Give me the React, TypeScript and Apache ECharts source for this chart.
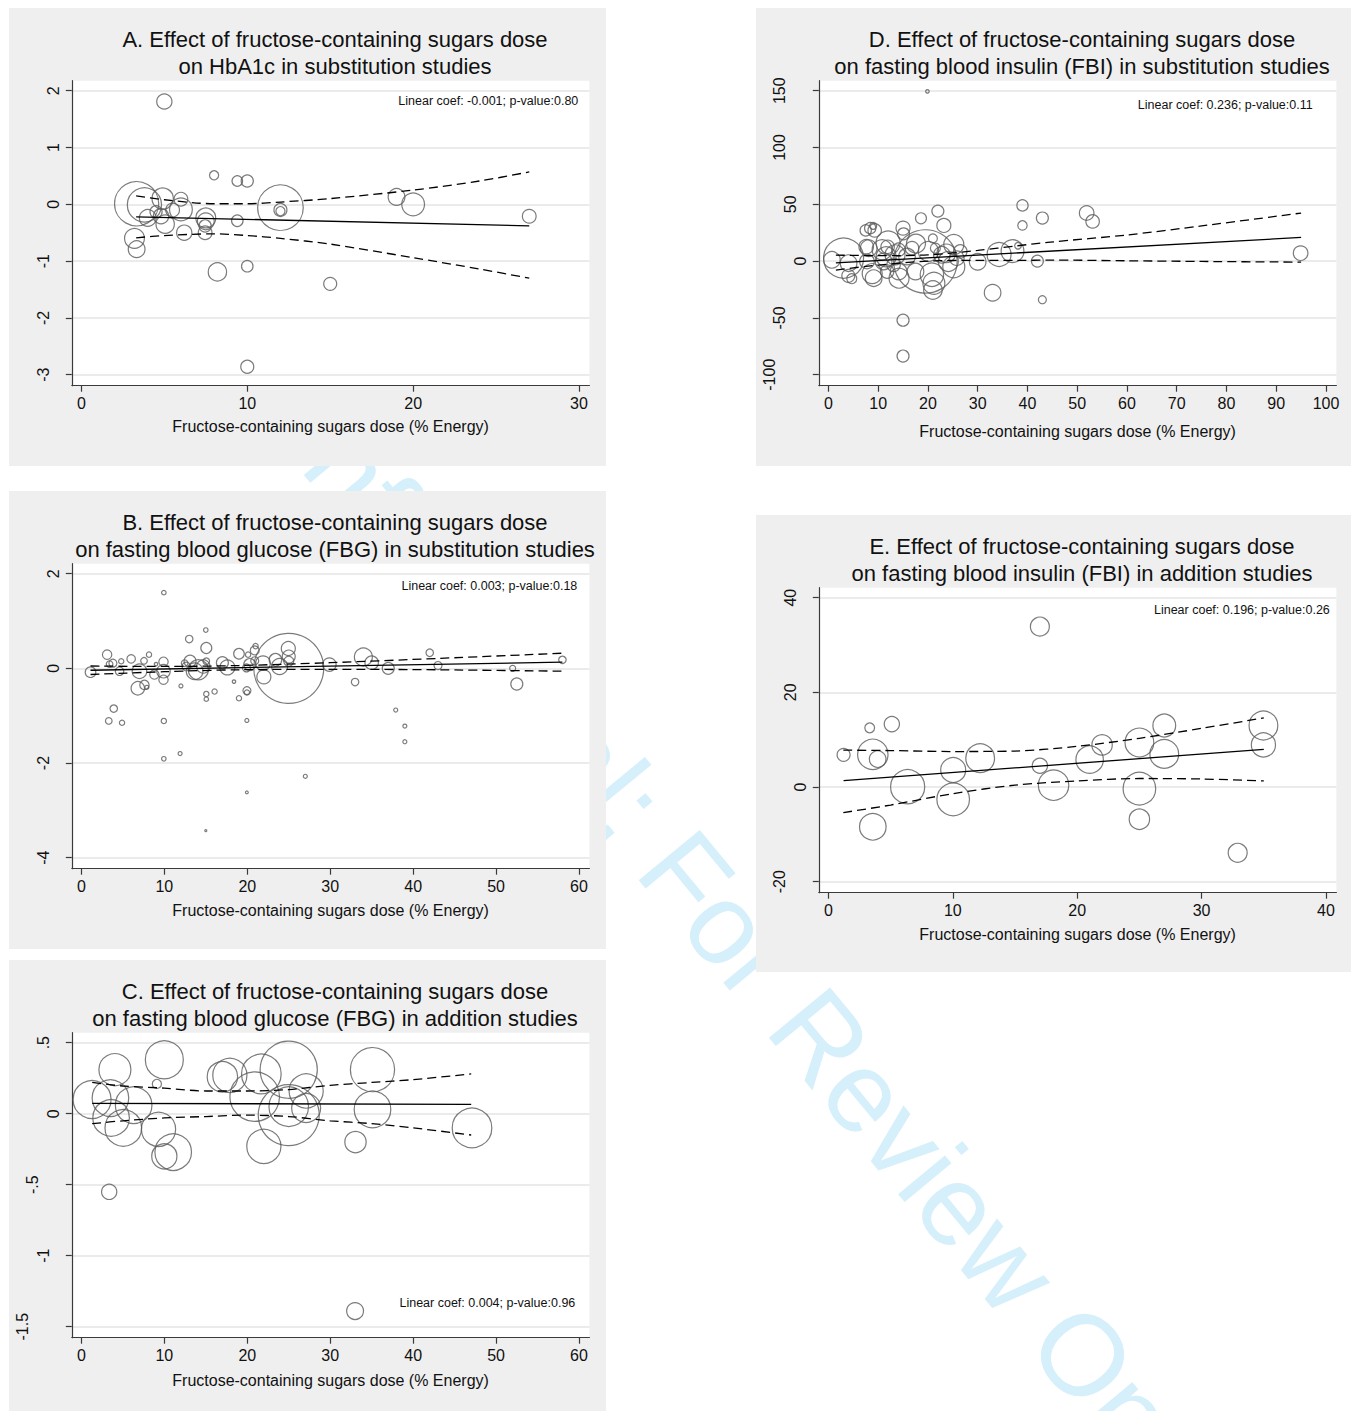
import React, { useEffect, useRef } from "react";
import * as echarts from "echarts";

const FONT = '"Liberation Sans", Arial, Helvetica, sans-serif';
const X_TITLE = "Fructose-containing sugars dose (% Energy)";

// ---------- A. HbA1c, substitution studies ----------
const doseA = [5.0, 8.0, 9.4, 10.0, 19.0, 20.0, 27.0, 12.0, 12.0, 12.0, 3.33, 3.8, 4.9, 6.0, 6.0, 5.5, 4.5, 4.8, 4.0, 5.05, 7.5, 7.5, 9.4, 6.2, 7.46, 3.2, 3.33, 8.2, 10.0, 15.0, 10.0, 7.46];
const effA = [1.81, 0.51, 0.41, 0.41, 0.13, 0.0, -0.21, -0.06, -0.1, -0.12, 0.01, -0.01, 0.1, 0.09, -0.09, -0.1, -0.13, -0.21, -0.24, -0.35, -0.24, -0.3, -0.29, -0.5, -0.5, -0.6, -0.79, -1.19, -1.09, -1.4, -2.86, -0.38];
const wtA = [58, 21, 28, 37, 70, 130, 47, 520, 42, 21, 488, 293, 114, 47, 130, 47, 37, 58, 70, 84, 98, 70, 33, 58, 47, 98, 70, 84, 33, 42, 42, 37];
const fitDoseA = [3.3, 27];
const fitA = [-0.22, -0.38];
const ciDoseA = [3.3, 5, 8, 10, 12, 15, 20, 24, 27];
const ciHiA = [0.15, 0.08, 0.01, 0.01, 0.04, 0.1, 0.25, 0.41, 0.57];
const ciLoA = [-0.59, -0.55, -0.52, -0.55, -0.6, -0.7, -0.94, -1.14, -1.3];
const xTicksA = [0, 10, 20, 30];
const yTicksA = [-3, -2, -1, 0, 1, 2];

// ---------- B. FBG, substitution studies ----------
const doseB = [1.1, 3.1, 3.8, 3.4, 4.8, 6.0, 8.15, 7.55, 4.6, 7.0, 6.8, 7.6, 7.9, 8.8, 9.9, 9.9, 9.9, 9.0, 12.0, 13.0, 12.65, 13.1, 13.65, 12.45, 14.7, 3.9, 9.94, 15.0, 3.3, 4.9, 9.94, 11.9, 9.94, 27.0, 19.95, 15.0, 19.95, 15.06, 15.06, 14.1, 17.0, 17.6, 19.0, 19.9, 20.1, 20.9, 21.0, 20.9, 20.3, 21.9, 22.0, 23.4, 23.9, 24.95, 25.0, 25.0, 25.0, 18.4, 19.96, 19.96, 19.0, 16.06, 15.06, 15.06, 29.9, 34.0, 35.0, 37.0, 33.0, 42.0, 43.0, 52.0, 52.5, 58.0, 37.9, 39.0, 39.0];
const effB = [-0.08, 0.29, 0.11, 0.09, 0.15, 0.2, 0.29, 0.16, -0.06, -0.06, -0.42, -0.35, -0.4, -0.13, 0.14, -0.06, -0.24, 0.09, -0.37, 0.62, 0.04, 0.15, -0.06, 0.11, 0.04, -0.85, 1.6, 0.81, -1.11, -1.15, -1.11, -1.8, -1.91, -2.28, -2.62, -3.43, -1.1, 0.43, 0.15, -0.03, 0.12, 0.02, 0.31, 0.01, 0.29, 0.38, 0.47, 0.16, 0.08, 0.11, -0.18, 0.18, 0.04, 0.42, 0.25, 0.15, 0.0, -0.28, -0.47, -0.51, -0.63, -0.49, -0.54, -0.65, 0.08, 0.24, 0.12, 0.0, -0.29, 0.33, 0.06, 0.0, -0.33, 0.18, -0.88, -1.22, -1.55];
const wtB = [28, 22, 16, 11, 7, 18, 7, 11, 18, 53, 45, 22, 4, 22, 22, 45, 22, 3, 4, 14, 18, 36, 69, 11, 45, 14, 5, 5, 11, 7, 7, 4, 5, 4, 2, 1, 4, 30, 11, 100, 36, 56, 28, 16, 7, 20, 7, 16, 36, 53, 49, 40, 64, 49, 42, 25, 1225, 3, 16, 7, 7, 7, 7, 5, 45, 81, 45, 36, 14, 14, 16, 9, 36, 14, 4, 4, 4];
const fitDoseB = [1.1, 58];
const fitB = [-0.04, 0.13];
const ciDoseB = [1.1, 10, 19, 30, 43, 58];
const ciHiB = [0.05, 0.04, 0.06, 0.12, 0.21, 0.32];
const ciLoB = [-0.13, -0.07, -0.03, -0.02, -0.03, -0.06];
const xTicksB = [0, 10, 20, 30, 40, 50, 60];
const yTicksB = [-4, -2, 0, 2];

// ---------- C. FBG, addition studies ----------
const doseC = [1.29, 3.5, 4.04, 3.58, 6.3, 5.05, 9.1, 10.0, 9.3, 10.0, 11.07, 17.0, 17.9, 21.7, 25.0, 20.9, 25.0, 25.0, 27.1, 27.1, 22.0, 33.05, 35.1, 35.1, 47.1, 3.35, 33.0];
const effC = [0.1, 0.11, 0.31, -0.03, 0.06, -0.1, 0.21, 0.38, -0.11, -0.3, -0.27, 0.26, 0.27, 0.28, 0.31, 0.12, -0.01, 0.05, 0.16, 0.04, -0.23, -0.2, 0.31, 0.03, -0.1, -0.55, -1.39];
const wtC = [361, 335, 256, 335, 335, 335, 21, 361, 292, 159, 335, 231, 292, 392, 818, 615, 930, 392, 292, 210, 292, 114, 488, 335, 392, 58, 71];
const fitDoseC = [1.3, 47];
const fitC = [0.073, 0.066];
const ciDoseC = [1.3, 5, 10, 15, 20, 25, 30, 35, 40, 47];
const ciHiC = [0.22, 0.195, 0.18, 0.16, 0.16, 0.17, 0.2, 0.22, 0.24, 0.28];
const ciLoC = [-0.07, -0.05, -0.03, -0.02, -0.01, -0.02, -0.05, -0.07, -0.1, -0.15];
const xTicksC = [0, 10, 20, 30, 40, 50, 60];
const yTicksC = [-1.5, -1, -0.5, 0, 0.5];

// ---------- D. FBI, substitution studies ----------
const doseD = [3.05, 0.7, 4.06, 4.0, 4.7, 7.5, 8.4, 9.3, 9.0, 8.1, 7.75, 8.8, 9.1, 10.8, 12.0, 11.1, 13.4, 13.1, 14.1, 14.2, 15.0, 15.1, 15.8, 17.6, 18.6, 22.0, 23.2, 19.5, 20.1, 21.0, 20.8, 21.2, 22.8, 24.1, 25.2, 25.8, 25.2, 17.5, 19.9, 39.0, 39.0, 43.0, 15.0, 15.0, 30.0, 34.3, 37.0, 38.1, 33.0, 42.0, 43.0, 51.9, 53.1, 94.9, 7.6, 11.9, 11.6, 23.7, 21.0, 16.8, 14.1, 11.8, 26.5, 21.5];
const effD = [2.6, 1.1, -1.8, -13, -15.5, 27, 29, 27, 31, 11.4, -0.3, -11, -15, 10, 16, -0.3, 5.5, -3.3, -9.2, -15, 29, 24, 4, 15.4, 37.7, 44, 31.4, -0.3, 8.5, 20, -12, -19.5, 5.5, -0.3, 14.6, 2.6, -5, -9.2, 149.4, 49, 31.4, 37.9, -52, -83.6, -0.6, 5.9, 8.8, 13.5, -27.9, 0, -34, 42.3, 34.9, 7.0, 12.6, 12.6, 3.8, 6.8, -25.5, 11.4, 10, -9.2, 8.5, 11.4];
const wtD = [400, 69, 69, 42, 25, 32, 32, 45, 12, 69, 53, 100, 69, 100, 144, 69, 100, 45, 69, 100, 49, 36, 69, 90, 30, 36, 49, 1005, 100, 20, 137, 121, 69, 100, 100, 53, 121, 69, 3, 32, 22, 36, 36, 36, 69, 144, 130, 11, 69, 36, 16, 53, 45, 53, 53, 45, 100, 86, 86, 45, 45, 45, 45, 25];
const fitDoseD = [1.5, 95];
const fitD = [-1.5, 20.8];
const ciDoseD = [1.5, 10, 20, 30, 38, 44.6, 60, 75, 95];
const ciHiD = [5.3, 4.8, 5.5, 9.4, 13.5, 16.7, 23, 31, 42.3];
const ciLoD = [-7.9, -3.5, 0, 0.6, 0.6, 0.9, 0.3, -0.3, -0.9];
const xTicksD = [0, 10, 20, 30, 40, 50, 60, 70, 80, 90, 100];
const yTicksD = [-100, -50, 0, 50, 100, 150];

// ---------- E. FBI, addition studies ----------
const doseE = [1.22, 3.32, 5.1, 3.57, 3.96, 3.57, 6.37, 10.03, 10.03, 12.2, 17.0, 17.0, 18.1, 21.0, 22.0, 25.0, 25.0, 25.0, 27.0, 27.0, 32.9, 34.97, 34.97];
const effE = [6.8, 12.5, 13.3, 6.9, 5.9, -8.4, 0.07, 3.6, -2.6, 6.1, 33.9, 4.5, 0.4, 5.8, 8.9, 9.4, -0.35, -6.8, 13.0, 7.0, -13.9, 13.0, 8.9];
const wtE = [42, 24, 58, 231, 69, 177, 292, 156, 266, 207, 90, 58, 231, 188, 104, 207, 266, 104, 130, 207, 90, 207, 146];
const fitDoseE = [1.22, 35];
const fitE = [1.34, 7.96];
const ciDoseE = [1.2, 5, 10, 15, 20, 25, 30, 35];
const ciHiE = [7.8, 7.7, 7.5, 7.6, 8.6, 10.3, 12.4, 14.6];
const ciLoE = [-5.4, -3.8, -1.4, 0.4, 1.3, 1.8, 1.7, 1.3];
const xTicksE = [0, 10, 20, 30, 40];
const yTicksE = [-20, 0, 20, 40];

type Panel = {
  title: [string, string];
  note: string;
  dose: number[];
  eff: number[];
  wt: number[];
  fitDose: number[];
  fit: number[];
  ciDose: number[];
  ciHi: number[];
  ciLo: number[];
  xTicks: number[];
  yTicks: number[];
  box: [number, number, number, number];
  noteAt: [number, number];
  nameDist: number;
};

const panels: Panel[] = [
  {
    title: ["A. Effect of fructose-containing sugars dose", "on HbA1c in substitution studies"],
    note: "Linear coef: -0.001; p-value:0.80",
    dose: doseA, eff: effA, wt: wtA, fitDose: fitDoseA, fit: fitA,
    ciDose: ciDoseA, ciHi: ciHiA, ciLo: ciLoA, xTicks: xTicksA, yTicks: yTicksA,
    box: [9, 8, 597, 458], noteAt: [569.3, 92.7], nameDist: 41.6,
  },
  {
    title: ["B. Effect of fructose-containing sugars dose", "on fasting blood glucose (FBG) in substitution studies"],
    note: "Linear coef: 0.003; p-value:0.18",
    dose: doseB, eff: effB, wt: wtB, fitDose: fitDoseB, fit: fitB,
    ciDose: ciDoseB, ciHi: ciHiB, ciLo: ciLoB, xTicks: xTicksB, yTicks: yTicksB,
    box: [9, 491, 597, 458], noteAt: [568.3, 95], nameDist: 42.5,
  },
  {
    title: ["C. Effect of fructose-containing sugars dose", "on fasting blood glucose (FBG) in addition studies"],
    note: "Linear coef: 0.004; p-value:0.96",
    dose: doseC, eff: effC, wt: wtC, fitDose: fitDoseC, fit: fitC,
    ciDose: ciDoseC, ciHi: ciHiC, ciLo: ciLoC, xTicks: xTicksC, yTicks: yTicksC,
    box: [9, 960, 597, 460], noteAt: [566.3, 342.7], nameDist: 43.3,
  },
  {
    title: ["D. Effect of fructose-containing sugars dose", "on fasting blood insulin (FBI) in substitution studies"],
    note: "Linear coef: 0.236; p-value:0.11",
    dose: doseD, eff: effD, wt: wtD, fitDose: fitDoseD, fit: fitD,
    ciDose: ciDoseD, ciHi: ciHiD, ciLo: ciLoD, xTicks: xTicksD, yTicks: yTicksD,
    box: [756, 8, 595, 458], noteAt: [556.7, 97], nameDist: 46.6,
  },
  {
    title: ["E. Effect of fructose-containing sugars dose", "on fasting blood insulin (FBI) in addition studies"],
    note: "Linear coef: 0.196; p-value:0.26",
    dose: doseE, eff: effE, wt: wtE, fitDose: fitDoseE, fit: fitE,
    ciDose: ciDoseE, ciHi: ciHiE, ciLo: ciLoE, xTicks: xTicksE, yTicks: yTicksE,
    box: [756, 515, 595, 457], noteAt: [573.8, 95], nameDist: 42.3,
  },
];

// plot region geometry inside each panel
const PLOT_DX = 62.8;
const PLOT_DY = 72.7;
const PLOT_W = 517.6;
const PLOT_H = 305;
const PAD_L = 9.6;
const PAD_R = 10.4;
const PAD_T = 10;
const PAD_B = 11;

const GREY_BG = "#efefef";
const GRID_LINE = "#e4e4e4";
const AXIS_COL = "#3a3a3a";
const MARKER_COL = "#5a5a5a";
const TEXT_COL = "#111111";

function paddedRange(ticks: number[], span: number, padLo: number, padHi: number): [number, number] {
  const lo = ticks[0];
  const hi = ticks[ticks.length - 1];
  const ppu = (span - padLo - padHi) / (hi - lo);
  return [lo - padLo / ppu, hi + padHi / ppu];
}

// Stata-style numbers: drop the leading zero (".5", "-1.5")
function stataNum(v: number): string {
  return String(v).replace(/^(-?)0\./, "$1.");
}

function zip(xs: number[], ys: number[]): number[][] {
  return xs.map((x, k) => [x, ys[k]]);
}

// rotated y labels sit further from the axis the longer they are
const yLabelRich: Record<string, any> = {};
for (let n = 1; n <= 5; n++) {
  yLabelRich["n" + n] = {
    fontSize: 16,
    fontFamily: FONT,
    color: TEXT_COL,
    padding: [0, 0, 10.5 * (n - 1), 0],
  };
}

function buildOption() {
  const grid: any[] = [];
  const xAxis: any[] = [];
  const yAxis: any[] = [];
  const series: any[] = [];
  const elements: any[] = [];

  // watermark behind the panels
  elements.push({
    type: "text",
    z: -10,
    silent: true,
    x: 236,
    y: 330,
    rotation: -0.88,
    style: {
      text: "Confidential: For Review Only",
      fontSize: 115,
      fontFamily: FONT,
      fill: "#d5effb",
      align: "left",
      verticalAlign: "middle",
      textAlign: "left",
      textVerticalAlign: "middle",
    },
  });

  panels.forEach((p, i) => {
    const [bx, by, bw, bh] = p.box;
    const left = bx + PLOT_DX;
    const top = by + PLOT_DY;

    elements.push({
      type: "rect",
      z: -5,
      silent: true,
      shape: { x: bx, y: by, width: bw, height: bh },
      style: { fill: GREY_BG },
    });
    p.title.forEach((line, j) => {
      elements.push({
        type: "text",
        z: 10,
        silent: true,
        x: bx + 326,
        y: by + 31.7 + j * 26.6,
        style: {
          text: line,
          fontSize: 22,
          fontFamily: FONT,
          fill: TEXT_COL,
          align: "center",
          verticalAlign: "middle",
          textAlign: "center",
          textVerticalAlign: "middle",
        },
      });
    });
    elements.push({
      type: "text",
      z: 10,
      silent: true,
      x: bx + p.noteAt[0],
      y: by + p.noteAt[1],
      style: {
        text: p.note,
        fontSize: 12.5,
        fontFamily: FONT,
        fill: TEXT_COL,
        align: "right",
        verticalAlign: "middle",
        textAlign: "right",
        textVerticalAlign: "middle",
      },
    });

    grid.push({
      left,
      top,
      width: PLOT_W,
      height: PLOT_H,
      show: true,
      backgroundColor: "#ffffff",
      borderWidth: 0,
    });

    const [xmin, xmax] = paddedRange(p.xTicks, PLOT_W, PAD_L, PAD_R);
    const [ymin, ymax] = paddedRange(p.yTicks, PLOT_H, PAD_B, PAD_T);

    xAxis.push({
      gridIndex: i,
      type: "value",
      min: xmin,
      max: xmax,
      axisLine: { show: true, onZero: false, lineStyle: { color: AXIS_COL, width: 1.2 } },
      axisTick: { show: true, length: 6, customValues: p.xTicks, lineStyle: { color: AXIS_COL, width: 1.2 } },
      axisLabel: {
        customValues: p.xTicks,
        fontSize: 16,
        fontFamily: FONT,
        color: TEXT_COL,
        margin: 10,
        formatter: (v: number) => stataNum(v),
      },
      splitLine: { show: false },
      name: X_TITLE,
      nameLocation: "middle",
      nameGap: p.nameDist - 9,
      nameTextStyle: { fontSize: 16, fontFamily: FONT, color: TEXT_COL },
    });

    yAxis.push({
      gridIndex: i,
      type: "value",
      min: ymin,
      max: ymax,
      axisLine: { show: true, onZero: false, lineStyle: { color: AXIS_COL, width: 1.2 } },
      axisTick: { show: true, length: 6, customValues: p.yTicks, lineStyle: { color: AXIS_COL, width: 1.2 } },
      axisLabel: {
        customValues: p.yTicks,
        rotate: 90,
        margin: 10,
        fontSize: 16,
        fontFamily: FONT,
        color: TEXT_COL,
        formatter: (v: number) => {
          const s = stataNum(v);
          return "{n" + Math.min(s.length, 5) + "|" + s + "}";
        },
        rich: yLabelRich,
      },
      splitLine: { show: true, lineStyle: { color: GRID_LINE, width: 1.5 } },
    });

    series.push({
      type: "scatter",
      xAxisIndex: i,
      yAxisIndex: i,
      silent: true,
      clip: false,
      z: 2,
      symbol: "circle",
      symbolSize: (v: number[]) => 2 * Math.sqrt(v[2]),
      itemStyle: { color: "rgba(0,0,0,0)", borderColor: MARKER_COL, borderWidth: 1.2 },
      data: p.dose.map((x, k) => [x, p.eff[k], p.wt[k]]),
    });
    series.push({
      type: "line",
      xAxisIndex: i,
      yAxisIndex: i,
      silent: true,
      z: 4,
      symbol: "none",
      lineStyle: { color: "#000", width: 1.3 },
      data: zip(p.fitDose, p.fit),
    });
    [p.ciHi, p.ciLo].forEach((band) => {
      series.push({
        type: "line",
        xAxisIndex: i,
        yAxisIndex: i,
        silent: true,
        z: 4,
        symbol: "none",
        smooth: 0.3,
        lineStyle: { color: "#000", width: 1.3, type: [9, 5] },
        data: zip(p.ciDose, band),
      });
    });
  });

  return {
    animation: false,
    grid,
    xAxis,
    yAxis,
    series,
    graphic: { elements },
  };
}

export default function App() {
  const ref = useRef<HTMLDivElement>(null);

  useEffect(() => {
    document.body.style.margin = "0";
    const chart = echarts.init(ref.current as HTMLDivElement, undefined, { renderer: "svg" });
    chart.setOption(buildOption() as any);
    return () => chart.dispose();
  }, []);

  return (
    <div
      ref={ref}
      style={{ position: "absolute", left: 0, top: 0, width: 1351, height: 1411, background: "#ffffff" }}
    />
  );
}
